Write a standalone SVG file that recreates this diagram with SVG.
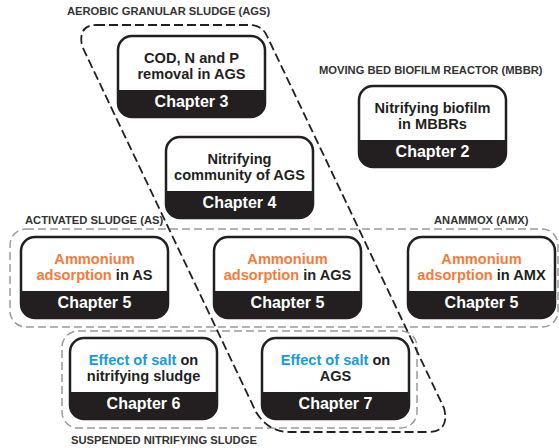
<svg xmlns="http://www.w3.org/2000/svg" width="559" height="448" viewBox="0 0 559 448">
  <style>
    .lbl { font-family: "Liberation Sans", Arial, sans-serif; font-weight: bold; font-size: 11.2px; fill: #333333; }
    .t { font-family: "Liberation Sans", Arial, sans-serif; font-weight: bold; font-size: 14.6px; fill: #231f20; text-anchor: middle; }
    .ch { font-family: "Liberation Sans", Arial, sans-serif; font-weight: bold; font-size: 16px; fill: #ffffff; text-anchor: middle; }
    .or { fill: #f47b3a; }
    .bl { fill: #1b9ad6; }
    .bg { fill: #ffffff; }
    .band { fill: #231f20; }
    .frame { fill: none; stroke: #231f20; stroke-width: 2.5; }
    .grey { fill: none; stroke: #9a9a9a; stroke-width: 1.5; stroke-dasharray: 8 4; }
    .black { fill: none; stroke: #231f20; stroke-width: 1.8; stroke-dasharray: 9 4; }
  </style>
  <defs>
    <g id="box">
      <rect class="bg" x="0" y="0" width="147" height="81" rx="14"/>
      <path class="band" d="M0,54 H147 V67 A14,14 0 0 1 133,81 H14 A14,14 0 0 1 0,67 Z"/>
      <rect class="frame" x="0" y="0" width="147" height="81" rx="14"/>
    </g>
  </defs>
  <rect width="559" height="448" fill="#ffffff"/>

  <g id="containers">
    <rect id="as-amx" class="grey" x="10" y="229" width="548" height="98" rx="16"/>
    <rect id="suspended" class="grey" x="62" y="331" width="355" height="97" rx="16"/>
    <path id="ags" class="black" d="M96,25 H250 Q262,25 267,36 L444,408 Q450,432 428,432 H290 Q268,432 256,412 L82,46 Q78,25 96,25 Z"/>
  </g>

  <g id="labels">
    <text class="lbl" x="67" y="15">AEROBIC GRANULAR SLUDGE (AGS)</text>
    <text class="lbl" x="319" y="74">MOVING BED BIOFILM REACTOR (MBBR)</text>
    <text class="lbl" x="25" y="224">ACTIVATED SLUDGE (AS)</text>
    <text class="lbl" x="434" y="224">ANAMMOX (AMX)</text>
    <text class="lbl" x="71" y="444">SUSPENDED NITRIFYING SLUDGE</text>
  </g>

  <g id="ch3" transform="translate(118,36)">
    <use href="#box"/>
    <text class="t" x="73.5" y="26.5">COD, N and P</text>
    <text class="t" x="73.5" y="43">removal in AGS</text>
    <text class="ch" x="73.5" y="71">Chapter 3</text>
  </g>

  <g id="ch4" transform="translate(166,137)">
    <use href="#box"/>
    <text class="t" x="73.5" y="26.5">Nitrifying</text>
    <text class="t" x="73.5" y="43">community of AGS</text>
    <text class="ch" x="73.5" y="71">Chapter 4</text>
  </g>

  <g id="ch2" transform="translate(359,86)">
    <use href="#box"/>
    <text class="t" x="73.5" y="26.5">Nitrifying biofilm</text>
    <text class="t" x="73.5" y="43">in MBBRs</text>
    <text class="ch" x="73.5" y="71">Chapter 2</text>
  </g>

  <g id="ch5-as" transform="translate(21,237)">
    <use href="#box"/>
    <text class="t or" x="73.5" y="26.5">Ammonium</text>
    <text class="t" x="73.5" y="43"><tspan class="or">adsorption</tspan> in AS</text>
    <text class="ch" x="73.5" y="71">Chapter 5</text>
  </g>

  <g id="ch5-ags" transform="translate(214,237)">
    <use href="#box"/>
    <text class="t or" x="73.5" y="26.5">Ammonium</text>
    <text class="t" x="73.5" y="43"><tspan class="or">adsorption</tspan> in AGS</text>
    <text class="ch" x="73.5" y="71">Chapter 5</text>
  </g>

  <g id="ch5-amx" transform="translate(408,237)">
    <use href="#box"/>
    <text class="t or" x="73.5" y="26.5">Ammonium</text>
    <text class="t" x="73.5" y="43"><tspan class="or">adsorption</tspan> in AMX</text>
    <text class="ch" x="73.5" y="71">Chapter 5</text>
  </g>

  <g id="ch6" transform="translate(70,338)">
    <use href="#box"/>
    <text class="t" x="73.5" y="26.5"><tspan class="bl">Effect of salt</tspan> on</text>
    <text class="t" x="73.5" y="43">nitrifying sludge</text>
    <text class="ch" x="73.5" y="71">Chapter 6</text>
  </g>

  <g id="ch7" transform="translate(262,338)">
    <use href="#box"/>
    <text class="t" x="73.5" y="26.5"><tspan class="bl">Effect of salt</tspan> on</text>
    <text class="t" x="73.5" y="43">AGS</text>
    <text class="ch" x="73.5" y="71">Chapter 7</text>
  </g>
</svg>
